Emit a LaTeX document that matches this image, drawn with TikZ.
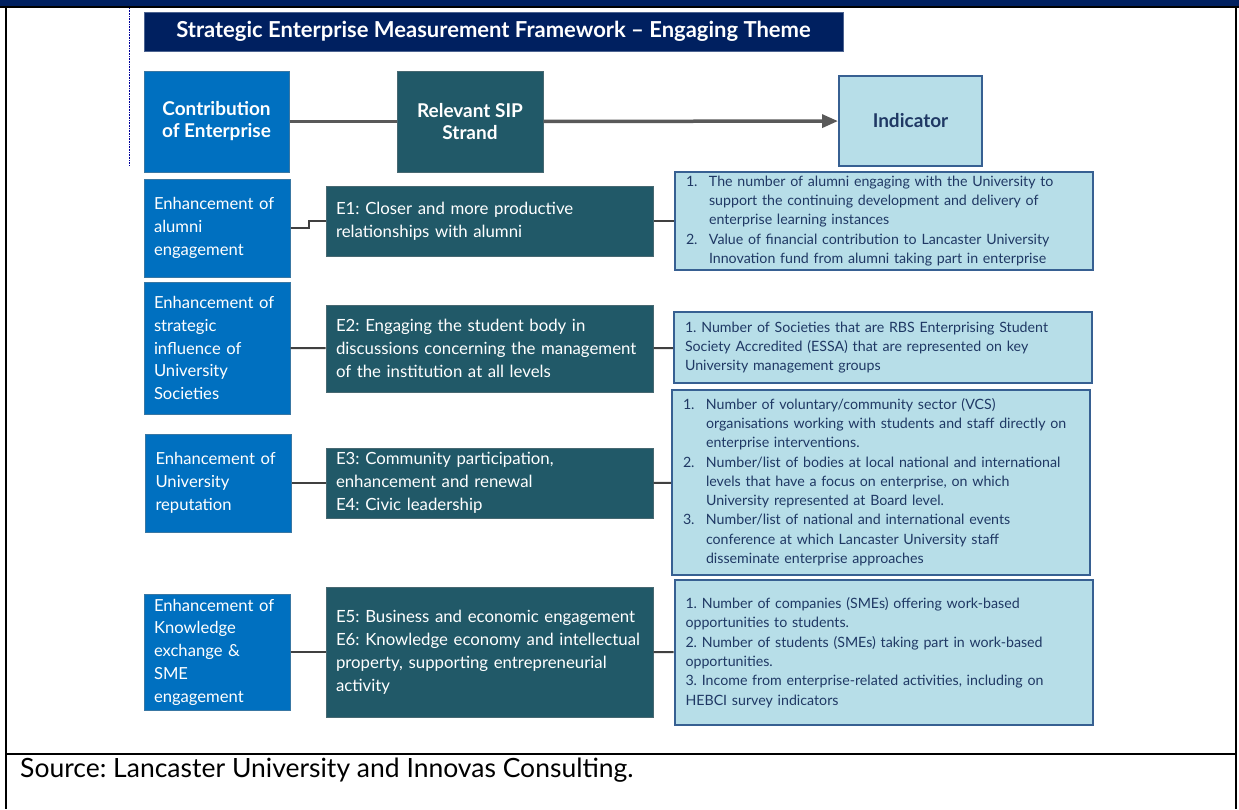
\documentclass[tikz,border=0pt]{standalone}
\usepackage{fontspec}
\setmainfont{Lato}
\usepackage{tikz}
\usetikzlibrary{arrows.meta}
\definecolor{navy}{HTML}{002060}
\definecolor{enterblue}{HTML}{0070C0}
\definecolor{strandteal}{HTML}{215968}
\definecolor{indlight}{HTML}{B7DEE8}
\definecolor{indedge}{HTML}{376092}
\definecolor{indtext}{HTML}{1F3864}
\definecolor{linkgray}{HTML}{404040}
\frenchspacing

\begin{document}
\begin{tikzpicture}[x=1pt,y=-1pt,>={Triangle[length=16pt,width=13pt]},
    every node/.style={inner sep=0pt},
    head/.style={fill=navy, draw=navy!70!white, text=white, font=\fontsize{22}{24}\selectfont\bfseries},
    top/.style={align=center, font=\fontsize{19}{22}\selectfont\bfseries, line width=1pt},
    enh/.style={fill=enterblue, draw=enterblue!55!gray, line width=1pt, text=white, align=left,
        text width=126pt, inner xsep=10pt, font=\fontsize{16.6}{22.7}\selectfont},
    strand/.style={fill=strandteal, draw=strandteal!60!gray, line width=1pt, text=white, align=left,
        text width=307pt, inner xsep=10pt, font=\fontsize{16.8}{23}\selectfont},
    indic/.style={fill=indlight, draw=indedge, line width=2pt, text=indtext, align=left,
        text width=396pt, inner xsep=11pt, font=\fontsize{14.2}{19.3}\selectfont},
    link/.style={draw=linkgray, line width=2pt}]

  \useasboundingbox (0,0) rectangle (1239,809);

  % frame of the table cell
  \fill[navy] (0,0) rectangle (1239,6);
  \draw[black, line width=2pt] (0,6.5) -- (1239,6.5);
  \draw[black, line width=2pt] (6,6) -- (6,809);
  \draw[black, line width=2pt] (1236,6) -- (1236,809);
  \draw[black, line width=2pt] (6,753.5) -- (1236,753.5);
  \draw[blue!60!black, densely dotted, line width=0.6pt] (129,8) -- (129,165);

  \node[head, minimum width=699pt, minimum height=39pt] (title) at (493.5,31.5)
    {Strategic Enterprise Measurement Framework -- Engaging Theme};

  % column heads
  \node[top, fill=enterblue, draw=enterblue!55!gray, text=white, minimum width=145pt, minimum height=101pt]
    (contrib) at (216.5,121.5) {Contribution\\of Enterprise};
  \node[top, fill=strandteal, draw=strandteal!60!gray, text=white, minimum width=146pt, minimum height=101pt]
    (sip) at (470,121.5) {Relevant SIP\\Strand};
  \node[top, fill=indlight, draw=indedge, line width=2pt, text=indtext, minimum width=143pt, minimum height=90pt]
    (ind) at (910.5,121) {Indicator};

  \path (contrib) edge[draw=black!65, line width=3.5pt] (sip)
        (sip) edge[->, draw=black!65, line width=3.5pt] (ind);

  % row 1
  \node[enh, minimum height=98pt] (e1) at (217,228) {Enhancement of\\alumni\\engagement};
  \node[strand, minimum height=70pt] (s1) at (489.5,221) {E1: Closer and more productive\\relationships with alumni};
  \node[indic, minimum height=98pt] (i1) at (884,221) {%
    \begin{tabular}{@{}p{23pt}@{}l@{}}
    1. & The number of alumni engaging with the University to\\
       & support the continuing development and delivery of\\
       & enterprise learning instances\\
    2. & Value of financial contribution to Lancaster University\\
       & Innovation fund from alumni taking part in enterprise
    \end{tabular}};

  % row 2
  \node[enh, minimum height=132pt] (e2) at (217,348) {Enhancement of\\strategic\\influence of\\University\\Societies};
  \node[strand, minimum height=87pt] (s2) at (489.5,348.5) {E2: Engaging the student body in\\discussions concerning the management\\of the institution at all levels};
  \node[indic, minimum height=71pt] (i2) at (883,347.5) {1. Number of Societies that are RBS Enterprising Student\\Society Accredited (ESSA) that are represented on key\\University management groups};

  % row 3
  \node[enh, minimum height=98pt] (e3) at (218.5,483) {Enhancement of\\University\\reputation};
  \node[strand, minimum height=70pt] (s3) at (489.5,483) {E3: Community participation,\\enhancement and renewal\\E4: Civic leadership};
  \node[indic, minimum height=185pt] (i3) at (881,482.5) {%
    \begin{tabular}{@{}p{23pt}@{}l@{}}
    1. & Number of voluntary/community sector (VCS)\\
       & organisations working with students and staff directly on\\
       & enterprise interventions.\\
    2. & Number/list of bodies at local national and international\\
       & levels that have a focus on enterprise, on which\\
       & University represented at Board level.\\
    3. & Number/list of national and international events\\
       & conference at which Lancaster University staff\\
       & disseminate enterprise approaches
    \end{tabular}};

  % row 4
  \node[enh, minimum height=116pt] (e4) at (217,652) {Enhancement of\\Knowledge\\exchange \&\\SME\\engagement};
  \node[strand, minimum height=130pt] (s4) at (489.5,652) {E5: Business and economic engagement\\E6: Knowledge economy and intellectual\\property, supporting entrepreneurial\\activity};
  \node[indic, minimum height=145pt] (i4) at (883.5,652.5) {1. Number of companies (SMEs) offering work-based\\opportunities to students.\\2. Number of students (SMEs) taking part in work-based\\opportunities.\\3. Income from enterprise-related activities, including on\\HEBCI survey indicators};

  % links between the columns
  \draw[link] (e1.east) -- ++(18,0) |- (s1.west);
  \path[link] (s1) edge (i1)
        (e2) edge (s2)
        (s2) edge (i2)
        (e3) edge (s3)
        (s3) edge (i3)
        (e4) edge (s4)
        (s4) edge (i4);

  \node[anchor=west, font=\fontsize{26.5}{28}\selectfont] (src) at (20,770)
    {Source: Lancaster University and Innovas Consulting.};
\end{tikzpicture}
\end{document}
